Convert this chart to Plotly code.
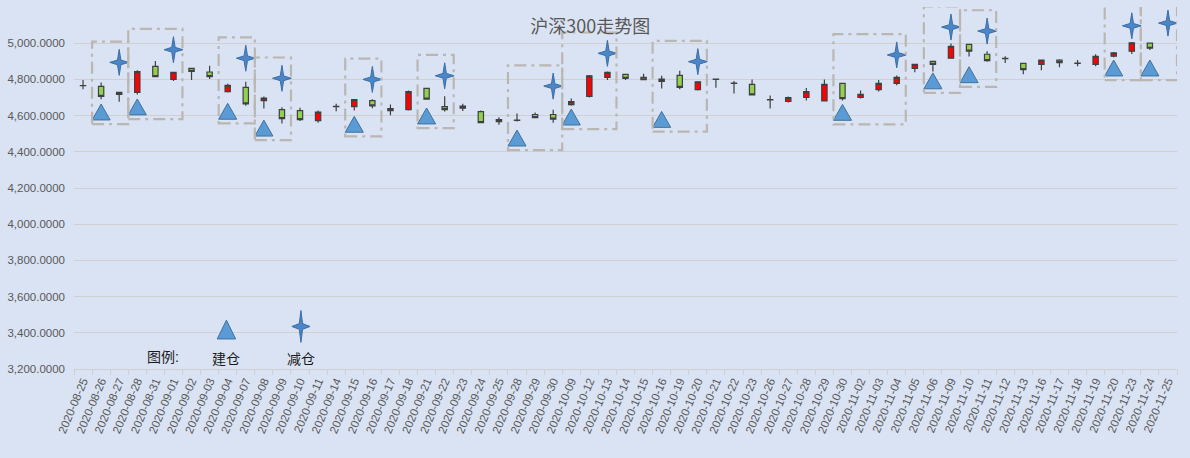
import plotly.graph_objects as go

# 沪深300 daily candles
dates = [
    "2020-08-25", "2020-08-26", "2020-08-27", "2020-08-28", "2020-08-31",
    "2020-09-01", "2020-09-02", "2020-09-03", "2020-09-04", "2020-09-07",
    "2020-09-08", "2020-09-09", "2020-09-10", "2020-09-11", "2020-09-14",
    "2020-09-15", "2020-09-16", "2020-09-17", "2020-09-18", "2020-09-21",
    "2020-09-22", "2020-09-23", "2020-09-24", "2020-09-25", "2020-09-28",
    "2020-09-29", "2020-09-30", "2020-10-09", "2020-10-12", "2020-10-13",
    "2020-10-14", "2020-10-15", "2020-10-16", "2020-10-19", "2020-10-20",
    "2020-10-21", "2020-10-22", "2020-10-23", "2020-10-26", "2020-10-27",
    "2020-10-28", "2020-10-29", "2020-10-30", "2020-11-02", "2020-11-03",
    "2020-11-04", "2020-11-05", "2020-11-06", "2020-11-09", "2020-11-10",
    "2020-11-11", "2020-11-12", "2020-11-13", "2020-11-16", "2020-11-17",
    "2020-11-18", "2020-11-19", "2020-11-20", "2020-11-23", "2020-11-24",
    "2020-11-25",
]
opens = [
    4765, 4761, 4717, 4728, 4872, 4800, 4861, 4841, 4733, 4756,
    4683, 4633, 4628, 4572, 4650, 4650, 4683, 4639, 4633, 4750,
    4650, 4641, 4622, 4578, 4574, 4606, 4606, 4661, 4706, 4811,
    4828, 4811, 4802, 4822, 4743, 4800, 4778, 4772, 4687, 4678,
    4700, 4681, 4778, 4700, 4744, 4778, 4861, 4900, 4917, 4994,
    4939, 4915, 4889, 4883, 4906, 4889, 4883, 4928, 4956, 5000,
    None,
]
highs = [
    4796, 4783, 4728, 4850, 4902, 4839, 4861, 4876, 4776, 4787,
    4706, 4646, 4643, 4628, 4665, 4689, 4691, 4661, 4739, 4754,
    4707, 4665, 4628, 4591, 4611, 4617, 4633, 4694, 4824, 4844,
    4831, 4831, 4820, 4848, 4787, 4800, 4791, 4800, 4711, 4706,
    4752, 4800, 4778, 4739, 4796, 4822, 4883, 4900, 4998, 4994,
    4956, 4928, 4889, 4906, 4911, 4907, 4939, 4952, 5007, 5000,
    None,
]
lows = [
    4746, 4691, 4676, 4717, 4815, 4791, 4796, 4802, 4728, 4654,
    4639, 4556, 4570, 4561, 4624, 4628, 4641, 4602, 4628, 4687,
    4622, 4626, 4561, 4550, 4568, 4585, 4561, 4655, 4700, 4796,
    4796, 4798, 4750, 4746, 4739, 4754, 4722, 4715, 4639, 4672,
    4683, 4678, 4683, 4694, 4733, 4767, 4839, 4844, 4917, 4926,
    4898, 4891, 4828, 4850, 4867, 4872, 4872, 4922, 4941, 4963,
    None,
]
closes = [
    4766, 4706, 4728, 4843, 4815, 4839, 4844, 4815, 4767, 4665,
    4696, 4583, 4578, 4620, 4651, 4689, 4654, 4628, 4733, 4691,
    4633, 4652, 4561, 4567, 4575, 4589, 4581, 4678, 4820, 4839,
    4806, 4798, 4789, 4756, 4787, 4801, 4779, 4715, 4688, 4700,
    4733, 4772, 4694, 4718, 4778, 4811, 4883, 4883, 4983, 4956,
    4904, 4916, 4854, 4906, 4893, 4890, 4928, 4946, 5002, 4972,
    None,
]

# 建仓 (open position) and 减仓 (reduce position) markers
build_dates = [
    "2020-08-26", "2020-08-28", "2020-09-04", "2020-09-08", "2020-09-15",
    "2020-09-21", "2020-09-28", "2020-10-09", "2020-10-16", "2020-10-30",
    "2020-11-06", "2020-11-10", "2020-11-20", "2020-11-24",
]
build_prices = [
    4620, 4648, 4624, 4531, 4552, 4598, 4476, 4592, 4579, 4618,
    4792, 4826, 4863, 4863,
]
cut_dates = [
    "2020-08-27", "2020-09-01", "2020-09-07", "2020-09-09", "2020-09-16",
    "2020-09-22", "2020-09-30", "2020-10-13", "2020-10-20", "2020-11-04",
    "2020-11-09", "2020-11-11", "2020-11-23", "2020-11-25",
]
cut_prices = [
    4894, 4964, 4917, 4806, 4800, 4820, 4763, 4944, 4898, 4935,
    5089, 5067, 5096, 5111,
]

y_ticks = [3200, 3400, 3600, 3800, 4000, 4200, 4400, 4600, 4800, 5000]

pos = {d: i for i, d in enumerate(dates)}
xs = list(range(len(dates)))

TRI_FILL = "#5b9bd5"
TRI_LINE = "#41719c"
STAR_FILL = "#4a86c8"
STAR_LINE = "#3c6ea6"
TEXT = "#595959"
BG = "#dae3f3"


def triangle(xc, yc, hw=0.5, hh=44):
    return [xc - hw, xc + hw, xc, xc - hw, None], [yc - hh, yc - hh, yc + hh, yc - hh, None]


def star(xc, yc, hw=0.52, hh=72, k=0.18):
    px = [xc, xc + hw * k, xc + hw, xc + hw * k, xc, xc - hw * k, xc - hw, xc - hw * k, xc, None]
    py = [yc + hh, yc + hh * k, yc, yc - hh * k, yc - hh, yc - hh * k, yc, yc + hh * k, yc + hh, None]
    return px, py


fig = go.Figure()

fig.add_trace(go.Candlestick(
    x=xs, open=opens, high=highs, low=lows, close=closes,
    increasing=dict(fillcolor="#ff0000", line=dict(color="#404040", width=1.2)),
    decreasing=dict(fillcolor="#92d050", line=dict(color="#404040", width=1.2)),
    whiskerwidth=0, showlegend=False, hoverinfo="skip",
))

tx, ty = [], []
for d, v in zip(build_dates, build_prices):
    a, b = triangle(pos[d], v)
    tx += a
    ty += b
# legend glyph
a, b = triangle(7.93, 3418, hw=0.51, hh=52)
tx += a
ty += b
fig.add_trace(go.Scatter(
    x=tx, y=ty, mode="lines", fill="toself", fillcolor=TRI_FILL,
    line=dict(color=TRI_LINE, width=1), showlegend=False, hoverinfo="skip",
))

sx, sy = [], []
for d, v in zip(cut_dates, cut_prices):
    a, b = star(pos[d], v)
    sx += a
    sy += b
a, b = star(12.05, 3435, hw=0.5, hh=88)
sx += a
sy += b
fig.add_trace(go.Scatter(
    x=sx, y=sy, mode="lines", fill="toself", fillcolor=STAR_FILL,
    line=dict(color=STAR_LINE, width=1), showlegend=False, hoverinfo="skip",
))

# dash-dot frames round each 建仓/减仓 pair
shapes = []
for bd, bp, cd, cp in zip(build_dates, build_prices, cut_dates, cut_prices):
    shapes.append(dict(
        type="rect", xref="x", yref="y",
        x0=pos[bd] - 0.5, x1=pos[cd] + 0.5, y0=bp - 67, y1=cp + 115,
        line=dict(color="#bab6b2", width=2.2, dash="12px,5px,3px,5px"),
        fillcolor="rgba(0,0,0,0)", layer="above",
    ))

annotations = [
    dict(x=4.4, y=3268, xref="x", yref="y", text="图例:", showarrow=False,
         font=dict(size=14, color="#1a1a1a")),
    dict(x=7.93, y=3257, xref="x", yref="y", text="建仓", showarrow=False,
         font=dict(size=14, color="#1a1a1a")),
    dict(x=12.05, y=3257, xref="x", yref="y", text="减仓", showarrow=False,
         font=dict(size=14, color="#1a1a1a")),
]

fig.update_layout(
    width=1190, height=458,
    margin=dict(l=69, r=13, t=7, b=89),
    paper_bgcolor=BG, plot_bgcolor=BG,
    font=dict(family="Liberation Sans, Noto Sans CJK SC", color=TEXT),
    title=dict(text="沪深300走势图", x=0.496, y=0.941, xanchor="center", yanchor="middle",
               font=dict(size=18, color=TEXT, family="Noto Sans CJK SC")),
    boxgap=0.58,
    shapes=shapes,
    annotations=annotations,
)
fig.update_xaxes(
    range=[-0.5, len(dates) - 0.5],
    tickmode="array", tickvals=xs, ticktext=dates, tickangle=-67,
    tickfont=dict(size=11.5, color=TEXT),
    ticks="", showgrid=False, zeroline=False,
    showline=True, linecolor="#d0d0d0", linewidth=1,
    minor=dict(tickmode="array", tickvals=[i - 0.5 for i in range(len(dates) + 1)],
               ticks="outside", ticklen=5, tickcolor="#d0d0d0", showgrid=False),
    rangeslider=dict(visible=False),
    fixedrange=True,
)
fig.update_yaxes(
    range=[3200, 5200], tickmode="array", tickvals=y_ticks,
    tickformat=",.4f", tickfont=dict(size=11.5, color=TEXT),
    showgrid=True, gridcolor="#d0d0d0", gridwidth=1,
    zeroline=False, showline=False, ticks="", ticklabelstandoff=8,
    fixedrange=True,
)

fig.write_html("out.html", config={"displayModeBar": False},
               post_script="document.body.style.margin='0';")
